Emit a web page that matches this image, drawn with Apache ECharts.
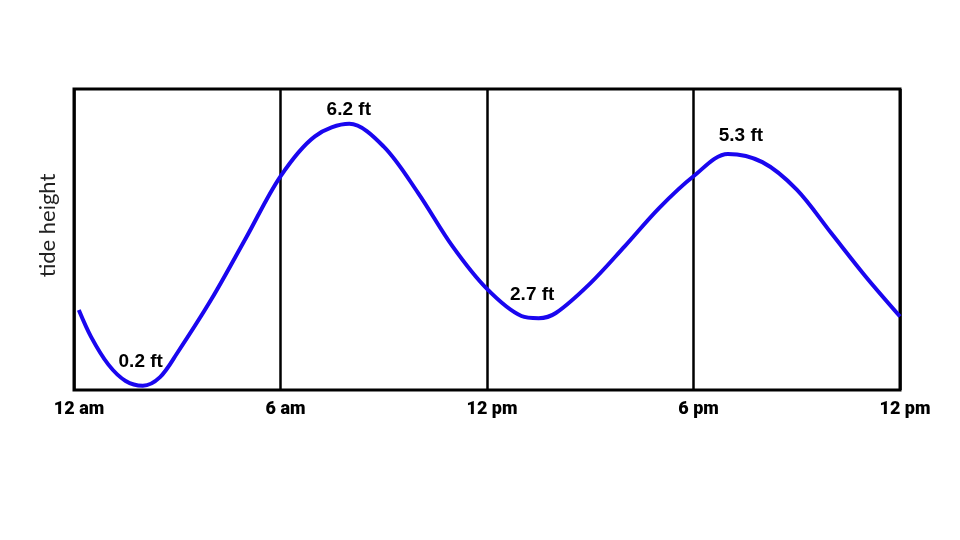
<!DOCTYPE html>
<html>
<head>
<meta charset="utf-8">
<script src="https://cdn.jsdelivr.net/npm/echarts@6/dist/echarts.min.js"></script>
<style>
  html, body { margin: 0; padding: 0; background: #fff; }
  #chart { width: 960px; height: 540px; }
</style>
</head>
<body>
<div id="chart"></div>
<script>
// hours since midnight
const hours = [0.14, 0.5, 1, 1.5, 2, 2.5, 3, 4, 5, 6, 7, 8, 9, 10, 11, 12, 13, 13.5,
  14, 15, 16, 17, 18, 19, 20, 21, 22, 23, 24];
// tide height (ft-ish scale of the drawing)
const heights = [1.86, 1.23, 0.59, 0.21, 0.10, 0.30, 0.86, 2.12, 3.54, 4.97, 5.90, 6.19,
  5.66, 4.58, 3.34, 2.35, 1.72, 1.67, 1.79, 2.48, 3.34, 4.23, 4.97, 5.49, 5.30,
  4.66, 3.65, 2.64, 1.71];

// high / low tide marks
const extremeHours = [1.88, 7.81, 13.43, 19.29];
const extremeHeights = [0.09, 6.19, 1.67, 5.49];
const extremeLabels = ['0.2 ft', '6.2 ft', '2.7 ft', '5.3 ft'];

const tickLabels = ['12 am', '6 am', '12 pm', '6 pm', '12 pm'];

// label nudges [x, y] for each extreme
const labelOffsets = [[2, -7], [6, 3], [-4, -6], [3, -1]];

const chart = echarts.init(document.getElementById('chart'));

chart.setOption({
  animation: false,
  grid: {
    left: 74, right: 60, top: 89, bottom: 150,
    show: true, borderColor: '#000', borderWidth: 3, backgroundColor: 'transparent'
  },
  xAxis: {
    type: 'value', min: 0, max: 24, interval: 6,
    axisLine: { show: false },
    axisTick: { show: false },
    splitLine: { show: true, lineStyle: { color: '#000', width: 2.5 } },
    axisLabel: {
      margin: 10,
      padding: [0, 0, 0, 10],
      fontFamily: 'Roboto, sans-serif',
      fontWeight: 900, fontSize: 18, color: '#000',
      formatter: v => tickLabels[Math.round(v / 6)]
    }
  },
  yAxis: {
    type: 'value', min: 0, max: 7,
    name: 'tide height', nameLocation: 'middle', nameRotate: 90, nameGap: 15,
    nameTextStyle: { fontFamily: 'Lato, sans-serif', fontSize: 22, color: '#222', padding: [0, 0, 0, 28] },
    axisLine: { show: false },
    axisTick: { show: false },
    axisLabel: { show: false },
    splitLine: { show: false }
  },
  series: [
    {
      type: 'line',
      data: hours.map((h, i) => [h, heights[i]]),
      smooth: 0.33,
      showSymbol: false,
      lineStyle: { color: '#1a06ef', width: 4 }
    },
    {
      type: 'scatter',
      symbolSize: 0,
      data: extremeHours.map((h, i) => ({
        value: [h, extremeHeights[i]],
        label: { offset: labelOffsets[i] }
      })),
      label: {
        show: true, position: 'top', distance: 8,
        formatter: p => extremeLabels[p.dataIndex],
        fontFamily: '"Liberation Sans", Arial, sans-serif',
        fontWeight: 'bold', fontSize: 19, color: '#000',
        textBorderWidth: 0, opacity: 1
      }
    }
  ]
});
</script>
</body>
</html>
